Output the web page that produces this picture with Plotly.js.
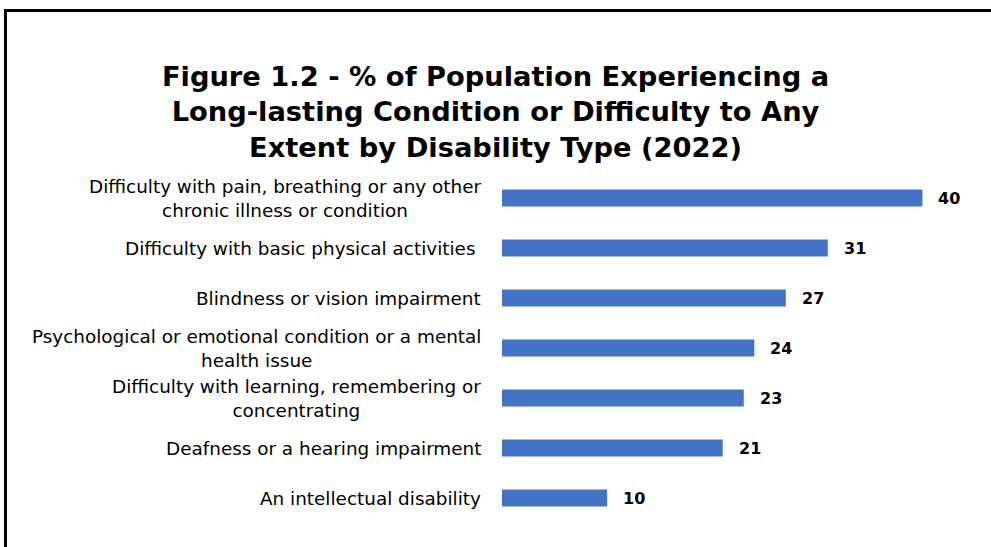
<!DOCTYPE html>
<html>
<head>
<meta charset="utf-8">
<script src="https://cdn.plot.ly/plotly-3.0.1.min.js"></script>
<style>html,body{margin:0;padding:0;background:#fff;}#chart{width:991px;height:547px;}</style>
</head>
<body>
<div id="chart"></div>
<script>
var categories = [
  "Difficulty with pain, breathing or any other<br>chronic illness or condition",
  "Difficulty with basic physical activities\u00a0",
  "Blindness or vision impairment",
  "Psychological or emotional condition or a mental<br>health issue",
  "Difficulty with learning, remembering or<br>concentrating",
  "Deafness or a hearing impairment",
  "An intellectual disability"
];
var values = [40, 31, 27, 24, 23, 21, 10];
var titleText = "Figure 1.2 - % of Population Experiencing a<br>Long-lasting Condition or Difficulty to Any<br>Extent by Disability Type (2022)";

var W = 991, H = 547, L = 502, R = 16, T = 173, B = 24;
var pw = W - L - R, ph = H - T - B;
function px2x(px){ return (px - L) / pw; }
function py2y(py){ return (H - B - py) / ph; }

var font = "DejaVu Sans, Verdana, sans-serif";

var annotations = [];
categories.forEach(function(c, i){
  annotations.push({
    xref: 'paper', yref: 'y', x: 0, y: i, xanchor: 'right', yanchor: 'middle',
    xshift: -19, text: c, showarrow: false, align: 'center',
    font: {family: font, size: 18.4, color: '#000'}
  });
  annotations.push({
    xref: 'x', yref: 'y', x: values[i], y: i, xanchor: 'left', yanchor: 'middle',
    xshift: 14, text: '<b>' + values[i] + '</b>', showarrow: false,
    font: {family: font, size: 16, color: '#000'}
  });
});

var trace = {
  type: 'bar', orientation: 'h',
  x: values, y: categories.map(function(c, i){ return i; }),
  marker: {color: '#4472C4'},
  width: 0.34,
  hoverinfo: 'none'
};

var layout = {
  width: W, height: H,
  margin: {l: L, r: R, t: T, b: B, pad: 0},
  paper_bgcolor: '#fff', plot_bgcolor: '#fff',
  showlegend: false,
  title: {
    text: '<b>' + titleText + '</b>',
    xref: 'container', x: 0.5, xanchor: 'center',
    yref: 'container', y: 1 - 86/H, yanchor: 'top',
    font: {family: font, size: 27.3, color: '#000'}
  },
  xaxis: {range: [0, 45], visible: false, fixedrange: true},
  yaxis: {range: [6.5, -0.5], showticklabels: false, showgrid: false, zeroline: false,
          showline: false, ticks: '', fixedrange: true},
  annotations: annotations,
  shapes: [
    {type: 'line', xref: 'paper', yref: 'paper', x0: px2x(5.5), x1: px2x(991), y0: py2y(10.5), y1: py2y(10.5),
     line: {color: '#000', width: 3}},
    {type: 'line', xref: 'paper', yref: 'paper', x0: px2x(5.5), x1: px2x(5.5), y0: py2y(9), y1: py2y(547),
     line: {color: '#000', width: 3}}
  ]
};

Plotly.newPlot('chart', [trace], layout, {displayModeBar: false, staticPlot: true});
</script>
</body>
</html>
